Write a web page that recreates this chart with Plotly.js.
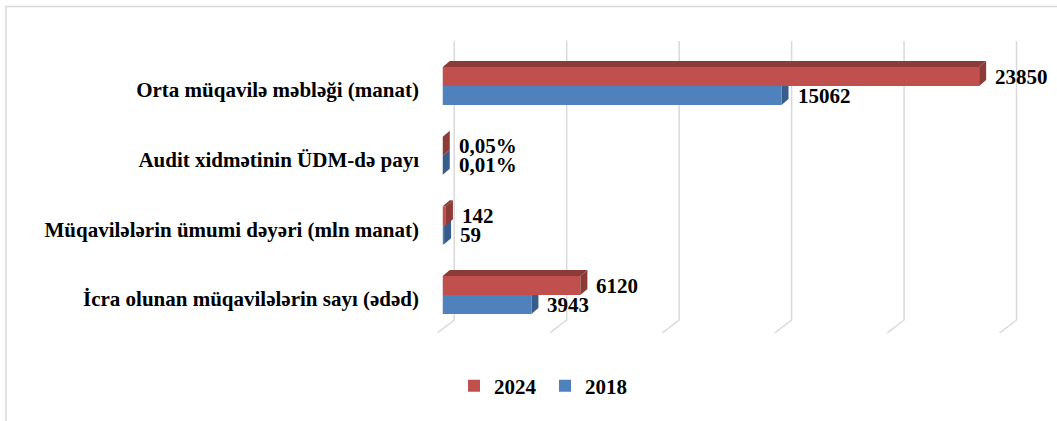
<!DOCTYPE html>
<html><head><meta charset="utf-8">
<script src="https://cdn.plot.ly/plotly-3.0.1.min.js"></script>
<style>html,body{margin:0;padding:0;background:#fff;} #chart{width:1057px;height:421px;}</style>
</head><body><div id="chart"></div>
<script>
// ---- data ----
const categories = ["İcra olunan müqavilələrin sayı (ədəd)", "Müqavilələrin ümumi dəyəri (mln manat)", "Audit xidmətinin ÜDM-də payı", "Orta müqavilə məbləği (manat)"];
const values2018 = [3943, 59, 0.01, 15062];
const values2024 = [6120, 142, 0.05, 23850];
const isPercent = [false, false, true, false];
const seriesNames = ["2018", "2024"];
const gridValues = [0, 5000, 10000, 15000, 20000, 25000];

// ---- layout constants ----
const W = 1057, H = 421;
const M = {l: 436, r: 16, t: 41, b: 88};
const XR = [-300, 26600];
const YR = [-0.545, 3.646];
const plotW = W - M.l - M.r, plotH = H - M.t - M.b;
const kx = (XR[1] - XR[0]) / plotW;
const ky = (YR[1] - YR[0]) / plotH;
const BARGAP = 0.455;
const bw = (1 - BARGAP) / 2;
const DX = 7, DY = 6;
const C = {red: '#C0504D', redDark: '#8C3B39', blue: '#4F81BD', blueDark: '#385D8A', grid: '#D9D9D9'};
const FONT = {family: "'Liberation Serif', 'Times New Roman', serif", size: 21, color: '#000', weight: 700};

const pos = categories.map((c, i) => i);
const fmt = (v, pct) => pct ? v.toFixed(2).replace('.', ',') + '%' : String(v);
const path = pts => 'M ' + pts.map(p => p[0] + ',' + p[1]).join(' L ') + ' Z';
const openPath = pts => 'M ' + pts.map(p => p[0] + ',' + p[1]).join(' L ');
const pxX = p => (p - M.l) / plotW;
const pxY = p => (H - M.b - p) / plotH;

const shapes = [];
// chart border
shapes.push({type: 'path', xref: 'paper', yref: 'paper', layer: 'below',
  path: openPath([[pxX(6), pxY(430)], [pxX(6), pxY(6.5)], [pxX(1065), pxY(6.5)]]),
  line: {color: C.grid, width: 1.5}});
// 3D gridlines (back wall + floor)
gridValues.forEach(v => {
  const xb = v + 11.5 * kx;
  shapes.push({type: 'path', xref: 'x', yref: 'y', layer: 'below',
    path: openPath([[xb, YR[1]], [xb, YR[0] + 13 * ky], [xb - 17 * kx, YR[0]]]),
    line: {color: C.grid, width: 1.5}});
});
function faces(v, yc, dark, layer) {
  const y0 = yc - bw / 2, y1 = yc + bw / 2;
  const dx = DX * kx, dy = DY * ky;
  shapes.push({type: 'path', xref: 'x', yref: 'y', layer: layer, fillcolor: dark, line: {width: 0},
    path: path([[0, y1], [v, y1], [v + dx, y1 + dy], [dx, y1 + dy]])});
  shapes.push({type: 'path', xref: 'x', yref: 'y', layer: layer, fillcolor: dark, line: {width: 0},
    path: path([[v, y0], [v, y1], [v + dx, y1 + dy], [v + dx, y0 + dy]])});
}
pos.forEach(i => faces(values2018[i], i - bw / 2, C.blueDark, 'below'));
pos.forEach(i => faces(values2024[i], i + bw / 2, C.redDark, 'above'));

const annotations = [];
pos.forEach(i => {
  annotations.push({x: values2024[i], y: i + bw / 2, xref: 'x', yref: 'y', text: fmt(values2024[i], isPercent[i]),
    showarrow: false, xanchor: 'left', yanchor: 'middle', xshift: 14, font: FONT});
  annotations.push({x: values2018[i], y: i - bw / 2, xref: 'x', yref: 'y', text: fmt(values2018[i], isPercent[i]),
    showarrow: false, xanchor: 'left', yanchor: 'middle', xshift: 14, font: FONT});
});

const traces = [
  {type: 'bar', orientation: 'h', name: seriesNames[0], x: values2018, y: pos,
   marker: {color: C.blue, line: {width: 0}}, hoverinfo: 'none'},
  {type: 'bar', orientation: 'h', name: seriesNames[1], x: values2024, y: pos,
   marker: {color: C.red, line: {width: 0}}, hoverinfo: 'none'}
];

const layout = {
  width: W, height: H, margin: M,
  paper_bgcolor: '#fff', plot_bgcolor: 'rgba(0,0,0,0)',
  barmode: 'group', bargap: BARGAP, bargroupgap: 0,
  font: FONT,
  xaxis: {range: XR, showgrid: false, zeroline: false, showline: false, showticklabels: false, ticks: '', fixedrange: true},
  yaxis: {range: YR, tickvals: pos, ticktext: categories, showgrid: false, zeroline: false, showline: false,
    ticks: '', ticklabelstandoff: 16, ticklabelshift: 4, tickfont: FONT, fixedrange: true},
  showlegend: true,
  legend: {orientation: 'h', traceorder: 'reversed', x: pxX(454), xanchor: 'left', y: pxY(386), yanchor: 'middle',
    entrywidth: 46, entrywidthmode: 'pixels', font: FONT, bgcolor: 'rgba(0,0,0,0)'},
  shapes: shapes,
  annotations: annotations
};

Plotly.newPlot('chart', traces, layout, {displayModeBar: false, staticPlot: true});
</script>
</body></html>
